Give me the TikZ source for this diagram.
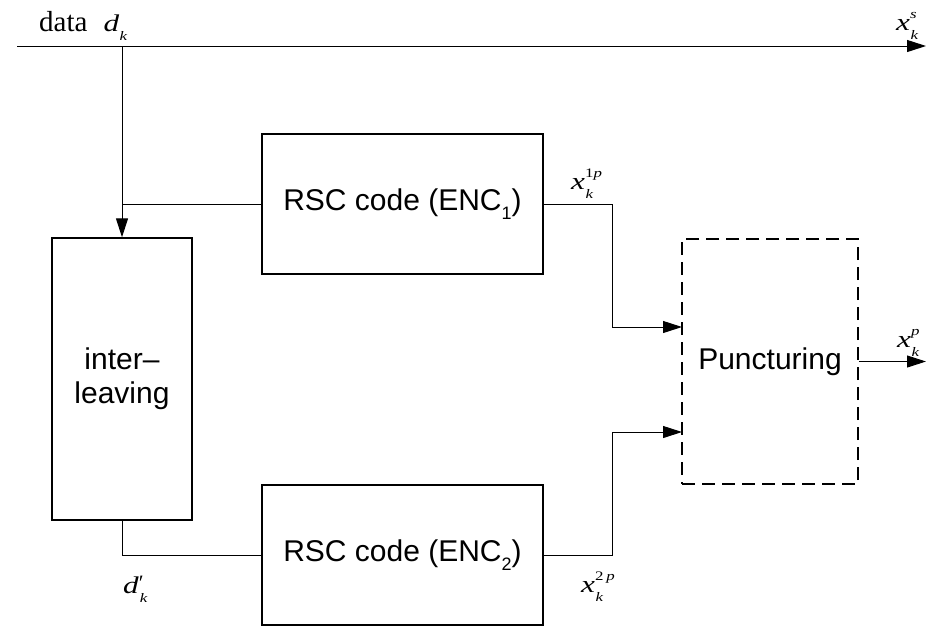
\documentclass[tikz,border=0pt]{standalone}
\usepackage{fontspec}
\usepackage{graphicx}
\setmainfont{Liberation Serif}
\setsansfont{Liberation Sans}
\usetikzlibrary{arrows.meta}
\newcommand{\subsz}{\fontsize{13}{13}\selectfont}
\newcommand{\mlet}[1]{\scalebox{1.3}[1]{\fontsize{24}{24}\selectfont\itshape #1}}
\newcommand{\slet}[1]{\scalebox{1.3}[1]{\subsz #1}}
\newcommand{\sv}[3]{\mlet{#1}\makebox[0pt][l]{\kern0.5pt\raisebox{-9pt}{\slet{\itshape #2}}}\raisebox{11.5pt}{\slet{#3}}}
\tikzset{
  blk/.style={draw, line width=1.4pt, rectangle, inner sep=0pt, font=\sffamily\fontsize{30}{30}\selectfont, align=center},
  dblk/.style={blk, dash pattern=on 13pt off 7pt, line width=1.8pt},
  con/.style={line width=1pt},
  arr/.style={con, -{Triangle[length=19pt,width=12pt]}},
  lbl/.style={inner sep=0pt, anchor=base west}
}
\begin{document}
\begin{tikzpicture}[x=1pt,y=-1pt]
\useasboundingbox (0,0) rectangle (927,625);
% blocks
\node[blk, minimum width=281pt, minimum height=140pt] (enc1) at (402.5,204) {RSC code (ENC\raisebox{-9pt}{\fontsize{18}{18}\selectfont 1})};
\node[blk, minimum width=140pt, minimum height=282pt] (il) at (122,379) {inter–\\[4pt]leaving};
\node[blk, minimum width=281pt, minimum height=140pt] (enc2) at (402.5,555) {RSC code (ENC\raisebox{-9pt}{\fontsize{18}{18}\selectfont 2})};
\node[dblk, minimum width=176pt, minimum height=245pt] (punct) at (770,361.5) {Puncturing};
% coordinates
\coordinate (start) at (17,46);
\coordinate (xsend) at (926,46);
\coordinate (j1) at (122,46);
\coordinate (j2) at (122,204);
\coordinate (in1) at (682,327);
\coordinate (in2) at (682,432);
\coordinate (xpend) at (926,361.5);
% connectors
\draw[arr] (start) -- (xsend);
\draw[arr] (j1) -- (il.north);
\draw[con] (j2) -- (enc1.west);
\draw[con] (il.south) |- (enc2.west);
\draw[arr] (enc1.east) -- (612,204) |- (in1);
\draw[arr] (enc2.east) -- (612,555) |- (in2);
\draw[arr] (punct.east) -- (xpend);
% labels
\node[lbl] (ldata) at (39,31) {\fontsize{29}{29}\selectfont data\hspace{16pt}\sv{d}{k}{}};
\node[lbl] (lxs) at (896,30) {\sv{x}{k}{\itshape s}};
\node[lbl] (lx1) at (571,189) {\sv{x}{k}{1\itshape p}};
\node[lbl] (lx2) at (581,592) {\sv{x}{k}{2\,\itshape p}};
\node[lbl] (ldp) at (123,593) {\mlet{d}\makebox[0pt][l]{\kern1pt\raisebox{-9pt}{\slet{\itshape k}}}\raisebox{3pt}{\fontsize{22}{22}\selectfont ′}};
\node[lbl] (lxp) at (897,347) {\sv{x}{k}{\itshape p}};
\end{tikzpicture}
\end{document}
